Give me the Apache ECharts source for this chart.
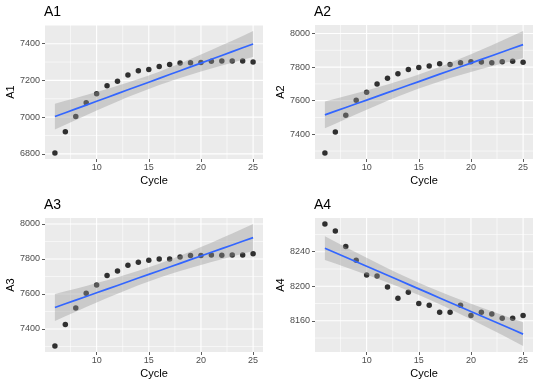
<!DOCTYPE html>
<html><head><meta charset="utf-8">
<script src="https://cdn.jsdelivr.net/npm/echarts@6/dist/echarts.min.js"></script>
<style>html,body{margin:0;padding:0;background:#fff}#c{width:540px;height:386px}</style>
</head><body><div id="c"></div>
<script>
// ---- data ----
const cycles = [6,7,8,9,10,11,12,13,14,15,16,17,18,19,20,21,22,23,24,25];
const a1 = [6805,6920,7004,7078,7127,7171,7195,7229,7253,7260,7276,7287,7295,7296,7298,7304,7305,7305,7305,7300];
const a2 = [7289,7414,7513,7602,7650,7699,7733,7760,7786,7798,7806,7820,7816,7826,7832,7830,7826,7832,7834,7828];
const a3 = [7303,7425,7520,7604,7651,7705,7731,7764,7781,7792,7800,7800,7811,7819,7819,7823,7821,7823,7823,7829];
const a4 = [8272,8264,8246,8230,8213,8212,8199,8186,8193,8180,8178,8170,8170,8178,8166,8170,8168,8163,8163,8166];
const panelNames = ['A1','A2','A3','A4'];
const xTicks = [10,15,20,25];
const a1Ticks = [6800,7000,7200,7400];
const a2Ticks = [7400,7600,7800,8000];
const a3Ticks = [7400,7600,7800,8000];
const a4Ticks = [8160,8200,8240];

// ---- linear model (geom_smooth method = lm, 95% CI) ----
function lmFit(xs, ys){
  const n = xs.length;
  const mx = xs.reduce((a,b)=>a+b,0)/n, my = ys.reduce((a,b)=>a+b,0)/n;
  let sxx=0, sxy=0;
  for(let i=0;i<n;i++){ sxx+=(xs[i]-mx)**2; sxy+=(xs[i]-mx)*(ys[i]-my); }
  const b = sxy/sxx, a = my - b*mx;
  let sse=0; for(let i=0;i<n;i++){ sse+=(ys[i]-(a+b*xs[i]))**2; }
  const s = Math.sqrt(sse/(n-2));
  const t = 2.100922; // qt(0.975, 18)
  const fit=[], lo=[], hi=[];
  xs.forEach(x=>{
    const f=a+b*x, se=s*Math.sqrt(1/n+(x-mx)**2/sxx);
    fit.push(f); lo.push(f-t*se); hi.push(f+t*se);
  });
  return {fit, lo, hi};
}
function midTicks(ticks){
  const step = ticks[1]-ticks[0];
  const out=[ticks[0]-step/2];
  ticks.forEach(v=>out.push(v+step/2));
  return out;
}

const series = [a1,a2,a3,a4];
const yTicksAll = [a1Ticks,a2Ticks,a3Ticks,a4Ticks];
const pos = [[45,25],[315,25],[45,218],[315,218]];
const W = 218, H = 134;
const xMin = 6 - 0.05*19, xMax = 25 + 0.05*19;

const grid=[], xAxis=[], yAxis=[], ser=[], title=[];
const font = 'Liberation Sans, Arial, Helvetica, sans-serif';
series.forEach((ys,k)=>{
  const m = lmFit(cycles, ys);
  const all = ys.concat(m.lo, m.hi);
  const lo = Math.min(...all), hi = Math.max(...all), sp = hi-lo;
  const yMin = lo-0.05*sp, yMax = hi+0.05*sp;
  const yT = yTicksAll[k];
  const xMinor = midTicks(xTicks).filter(v=>v>xMin && v<xMax);
  const yMinor = midTicks(yT).filter(v=>v>yMin && v<yMax);
  grid.push({left:pos[k][0], top:pos[k][1], width:W, height:H, show:true, backgroundColor:'#EBEBEB', borderWidth:0});
  title.push({text:panelNames[k], left:pos[k][0]-1, top:pos[k][1]-20, padding:0,
    textStyle:{fontFamily:font, fontSize:14, fontWeight:'normal', color:'#000'}});
  xAxis.push({type:'value', gridIndex:k, position:'bottom', min:xMin, max:xMax,
    name:'Cycle', nameLocation:'middle', nameGap:16,
    nameTextStyle:{fontFamily:font, fontSize:11, color:'#000'},
    axisLine:{show:false},
    axisTick:{show:true, length:3, lineStyle:{color:'#333333', width:0.8}, customValues:xTicks},
    axisLabel:{show:true, margin:4, fontFamily:font, fontSize:9, color:'#4D4D4D', customValues:xTicks, formatter:v=>String(v)},
    splitLine:{show:false}});
  yAxis.push({type:'value', gridIndex:k, position:'left', min:yMin, max:yMax,
    name:panelNames[k], nameLocation:'middle', nameGap:27,
    nameTextStyle:{fontFamily:font, fontSize:11, color:'#000'},
    axisLine:{show:false},
    axisTick:{show:true, length:3, lineStyle:{color:'#333333', width:0.8}, customValues:yT},
    axisLabel:{show:true, margin:5, fontFamily:font, fontSize:9, color:'#4D4D4D', customValues:yT, formatter:v=>String(v)},
    splitLine:{show:false}});
  // panel grid lines placed through the axes' scales
  ser.push({type:'custom', xAxisIndex:k, yAxisIndex:k, z:1, silent:true,
    data:[[cycles[0], ys[0]]],
    renderItem:(params, api)=>{
      const ch=[];
      const addH=(v,w)=>{const p1=api.coord([xMin,v]), p2=api.coord([xMax,v]);
        ch.push({type:'line', shape:{x1:p1[0],y1:p1[1],x2:p2[0],y2:p2[1]}, style:{stroke:'#FFFFFF', lineWidth:w}});};
      const addV=(v,w)=>{const p1=api.coord([v,yMin]), p2=api.coord([v,yMax]);
        ch.push({type:'line', shape:{x1:p1[0],y1:p1[1],x2:p2[0],y2:p2[1]}, style:{stroke:'#FFFFFF', lineWidth:w}});};
      yMinor.forEach(v=>addH(v,0.6)); xMinor.forEach(v=>addV(v,0.6));
      yT.forEach(v=>addH(v,1.1)); xTicks.forEach(v=>addV(v,1.1));
      return {type:'group', children:ch};
    }});
  ser.push({type:'scatter', xAxisIndex:k, yAxisIndex:k, z:2, symbolSize:5.5,
    itemStyle:{color:'#000'}, data:cycles.map((c,i)=>[c,ys[i]]), silent:true});
  // confidence ribbon
  ser.push({type:'custom', xAxisIndex:k, yAxisIndex:k, z:3, silent:true,
    data:[[cycles[0], m.fit[0]]],
    renderItem:(params, api)=>{
      const up = cycles.map((c,i)=>api.coord([c,m.hi[i]]));
      const dn = cycles.map((c,i)=>api.coord([c,m.lo[i]])).reverse();
      return {type:'polygon', shape:{points:up.concat(dn)}, style:{fill:'rgba(153,153,153,0.4)'}};
    }});
  ser.push({type:'line', xAxisIndex:k, yAxisIndex:k, z:4, symbol:'none',
    lineStyle:{color:'#3366FF', width:1.7}, data:cycles.map((c,i)=>[c,m.fit[i]]), silent:true});
});

const chart = echarts.init(document.getElementById('c'), null, {renderer:'canvas'});
chart.setOption({animation:false, backgroundColor:'#fff', title, grid, xAxis, yAxis, series:ser});
</script></body></html>
